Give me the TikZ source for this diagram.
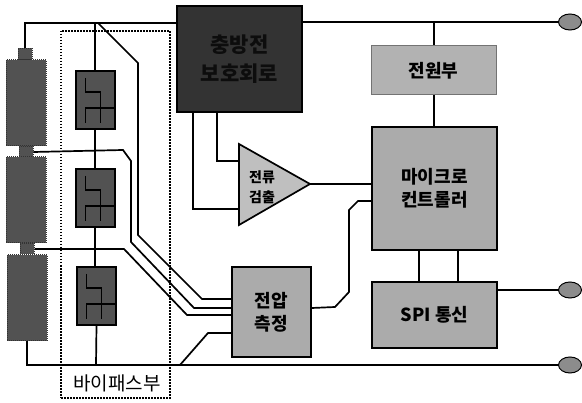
\documentclass[tikz,border=0pt]{standalone}
\usepackage{fontspec}
\setmainfont{Noto Sans CJK KR}
\usetikzlibrary{calc,shapes.geometric}
\tikzset{
  x=1pt,y=-1pt,
  wire/.style={draw=black,line width=1.7pt,line join=miter},
  lightbox/.style={draw=black,line width=1.7pt,fill=black!33,inner sep=0pt,align=center,font=\fontsize{18}{23}\selectfont\bfseries},
  softbox/.style={lightbox,draw=black!55,line width=1pt,fill=black!30},
  darkbox/.style={draw=black,line width=1.7pt,fill=black!80,inner sep=0pt,align=center,text=black!95,font=\fontsize{21}{29}\selectfont\bfseries},
  sw/.style={draw=black,line width=1.7pt,fill=black!68,inner sep=0pt,minimum width=39pt,minimum height=58pt},
  cell/.style={draw=black!80,densely dotted,line width=1pt,fill=black!68,inner sep=0pt,minimum width=40pt,minimum height=86pt},
  capcell/.style={draw=black!80,densely dotted,line width=1pt,fill=black!68,inner sep=0pt,minimum width=14pt,minimum height=11pt},
  term/.style={ellipse,draw=black,line width=1pt,fill=black!45,inner sep=0pt,minimum width=23pt,minimum height=16pt},
  swline/.style={draw=black,line width=1.1pt},
  group/.style={draw=black,line width=1.3pt,dash pattern=on 1.5pt off 1.5pt}
}
\newcommand{\swsym}[1]{%
  \draw[swline] ($(#1)+(-10,-22)$) -- ++(0,14) -- ++(15,0) -- ++(0,15);
  \draw[swline] ($(#1)+(-10,23)$) -- ++(0,-15) -- ++(30,0);
  \draw[swline] ($(#1)+(5,23)$) -- ++(0,-15);
}
\begin{document}
\begin{tikzpicture}
\useasboundingbox (0,0) rectangle (582,403);
% group box
\node[group,minimum width=109pt,minimum height=367pt,inner sep=0pt] (grp) at (115.5,214.5) {};
\node[font=\fontsize{19}{22}\selectfont,inner sep=0pt] (grplabel) at (117,383) {바이패스부};
% battery cells
\node[capcell] (c1) at (25,54) {};
\node[cell] (b1) at (26,103) {};
\node[capcell] (c2) at (26,152) {};
\node[cell] (b2) at (26,200) {};
\node[capcell] (c3) at (27,249) {};
\node[cell] (b3) at (27,298) {};
% bypass switches
\node[sw] (s1) at (95.5,100) {};
\node[sw] (s2) at (95.5,198) {};
\node[sw] (s3) at (96.5,296) {};
\swsym{s1}\swsym{s2}\swsym{s3}
% main blocks
\node[darkbox,minimum width=125pt,minimum height=106pt] (prot) at (239.5,59) {충방전\\보호회로};
\node[softbox,minimum width=125pt,minimum height=49pt] (pwr) at (433.5,70.5) {전원부};
\node[lightbox,minimum width=125pt,minimum height=123pt] (mcu) at (434.5,188.5) {마이크로\\컨트롤러};
\node[lightbox,minimum width=125pt,minimum height=66pt] (spi) at (434.5,315) {SPI 통신};
\node[lightbox,minimum width=79pt,minimum height=90pt] (vm) at (271.5,312) {전압\\측정};
\coordinate (ta) at (239,144);
\coordinate (tb) at (239,225);
\coordinate (amp) at (310,184);
\draw[draw=black,line width=1.7pt,fill=black!25] (ta) -- (tb) -- (amp) -- cycle;
\node[inner sep=0pt,align=left,font=\fontsize{14}{20}\selectfont\bfseries] (amplabel) at (262,187) {전류\\검출};
% terminals
\node[term] (t1) at (570,22) {};
\node[term] (t2) at (570,290) {};
\node[term] (t3) at (570,365) {};
% wires
\coordinate (tj) at (95,23);
\coordinate (bj) at (96,365);
\coordinate (pj) at (434,22);
\draw[wire] (c1.north) |- (prot.west |- tj);
\draw[wire] (prot.east |- t1) -- (t1);
\draw[wire] (tj) -- (tj |- s1.north);
\draw[wire] (s1.south -| tj) -- (s2.north -| tj);
\draw[wire] (s2.south -| tj) -- (s3.north -| tj);
\draw[wire] (s3.south) -- (bj);
\draw[wire] (b3.south) |- (bj) -- (t3);
\draw[wire] (pj) -- (pj |- pwr.north);
\draw[wire] (pwr.south -| pj) -- (pj |- mcu.north);
\draw[wire] (98,23) -- (138,63) -- (138,235) -- (202,299) -- (vm.west |- 0,299);
\draw[wire] (c2.east) -- (123,150) -- (131,161) -- (131,242) -- (194,308) -- (vm.west |- 0,308);
\draw[wire] (c3.east) -- (124,249) -- (187,315) -- (vm.west |- 0,315);
\draw[wire] (180,365) -- (208,333) -- (vm.west |- 0,333);
\draw[wire] (prot.south -| 193,0) -- (193,209) -- (239,209);
\draw[wire] (prot.south -| 217,0) -- (217,161) -- (239,161);
\draw[wire] (amp) -- (mcu.west |- amp);
\draw[wire] (vm.east |- 0,308) -- (335,307) -- (349,292) -- (349,210) -- (358,201) -- (mcu.west |- 0,201);
\draw[wire] (mcu.south -| 419,0) -- (spi.north -| 419,0);
\draw[wire] (mcu.south -| 458,0) -- (spi.north -| 458,0);
\draw[wire] (spi.east |- t2) -- (t2);
\end{tikzpicture}
\end{document}
